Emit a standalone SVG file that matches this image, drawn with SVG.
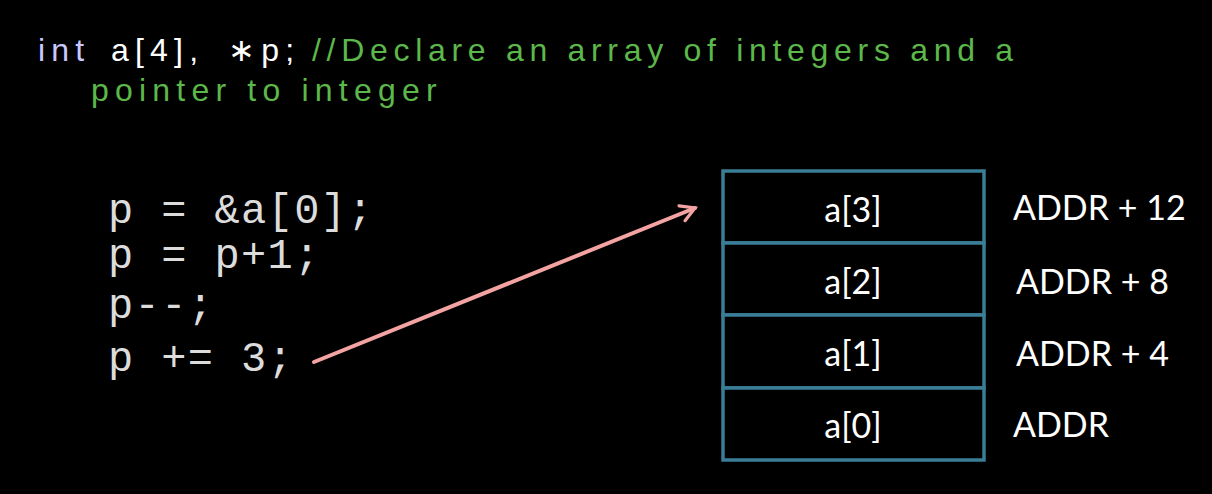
<svg xmlns="http://www.w3.org/2000/svg" width="1212" height="494" viewBox="0 0 1212 494">
<style>
.hdr{font-family:"Liberation Sans",Arial,sans-serif;font-size:32px;letter-spacing:6.2px}
.code{font-family:"Liberation Mono","Courier New",monospace;font-size:42px;letter-spacing:1.4px;fill:#dcdcdc}
.cell{fill:#000;stroke:#3a7d96;stroke-width:3.5}
.lbl{font-family:Lato,"Open Sans",sans-serif;font-size:34px;fill:#fff}
</style>
<defs>
<marker id="ah" viewBox="0 0 10 10" refX="8" refY="5" markerWidth="5" markerHeight="5" orient="auto" markerUnits="strokeWidth">
<path d="M1,1 L8,5 L1,9" fill="none" stroke="#f4a3a3" stroke-width="1.6" stroke-linecap="round"/>
</marker>
</defs>
<rect width="1212" height="494" fill="#000"/>
<g id="header">
<text class="hdr" x="38" y="61"><tspan fill="#c9c9ff">int</tspan><tspan fill="#fff" x="111">a[4],</tspan><tspan fill="#fff" x="228">∗p;</tspan><tspan fill="#5cb84a" x="312" style="letter-spacing:5.7px">//Declare an array of integers and a</tspan></text>
<text class="hdr" x="91" y="101" fill="#5cb84a">pointer to integer</text>
</g>
<g id="code">
<text class="code" x="108" y="223">p = &amp;a[0];</text>
<text class="code" x="108" y="268">p = p+1;</text>
<text class="code" x="108" y="318">p--;</text>
<text class="code" x="108" y="371">p += 3;</text>
</g>
<g id="array">
<g id="a3"><rect class="cell" x="723" y="171" width="261" height="72"/><text class="lbl" x="853" y="222" text-anchor="middle">a[3]</text></g>
<g id="a2"><rect class="cell" x="723" y="243" width="261" height="72"/><text class="lbl" x="853" y="294" text-anchor="middle">a[2]</text></g>
<g id="a1"><rect class="cell" x="723" y="315" width="261" height="73"/><text class="lbl" x="853" y="366" text-anchor="middle">a[1]</text></g>
<g id="a0"><rect class="cell" x="723" y="388" width="261" height="72"/><text class="lbl" x="853" y="438" text-anchor="middle">a[0]</text></g>
</g>
<g id="addresses">
<text class="lbl" x="1013" y="220">ADDR + 12</text>
<text class="lbl" x="1016" y="294">ADDR + 8</text>
<text class="lbl" x="1016" y="366">ADDR + 4</text>
<text class="lbl" x="1013" y="437">ADDR</text>
</g>
<g id="connectors">
<line x1="314" y1="362" x2="695" y2="208" stroke="#f4a3a3" stroke-width="4" stroke-linecap="round" marker-end="url(#ah)"/>
</g>
</svg>
